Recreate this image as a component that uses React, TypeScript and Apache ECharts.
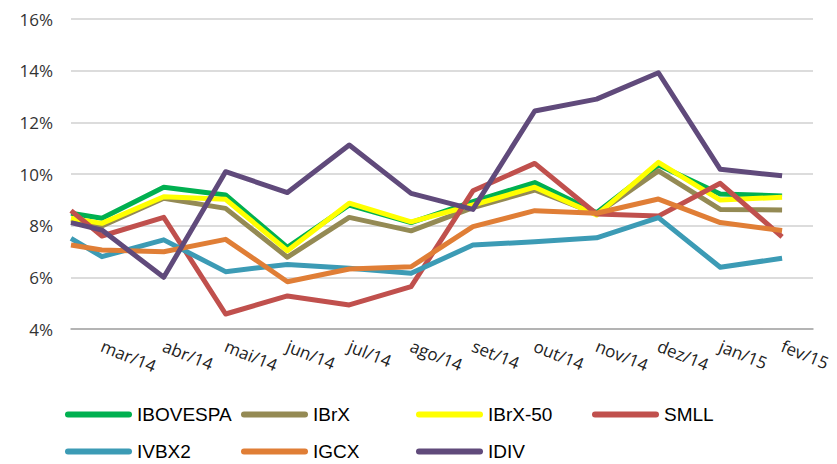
import React, { useEffect, useRef } from 'react';
import * as echarts from 'echarts';

const categories = ['mar/14', 'abr/14', 'mai/14', 'jun/14', 'jul/14', 'ago/14', 'set/14', 'out/14', 'nov/14', 'dez/14', 'jan/15', 'fev/15'];
const seriesNames = ['IBOVESPA', 'IBrX', 'IBrX-50', 'SMLL', 'IVBX2', 'IGCX', 'IDIV'];
const seriesColors = ['#00b050', '#948a54', '#ffff00', '#c0504d', '#3c9bb5', '#e07e36', '#604a7b'];

const ibovespa = [8.29, 9.49, 9.19, 7.16, 8.8, 8.12, 8.93, 9.67, 8.5, 10.35, 9.23, 9.15];
const ibrx = [7.99, 9.06, 8.67, 6.78, 8.32, 7.8, 8.7, 9.38, 8.45, 10.12, 8.63, 8.61];
const ibrx50 = [8.09, 9.12, 9.02, 7.03, 8.87, 8.15, 8.8, 9.49, 8.41, 10.45, 8.99, 9.1];
const smll = [7.6, 8.32, 4.58, 5.28, 4.93, 5.64, 9.35, 10.41, 8.45, 8.37, 9.64, 7.57];
const ivbx2 = [6.8, 7.45, 6.22, 6.5, 6.35, 6.16, 7.25, 7.38, 7.53, 8.31, 6.39, 6.74];
const igcx = [7.06, 6.99, 7.47, 5.83, 6.32, 6.41, 7.96, 8.58, 8.48, 9.03, 8.12, 7.81];
const idiv = [7.83, 6.0, 10.09, 9.28, 11.12, 9.25, 8.63, 12.44, 12.9, 13.92, 10.18, 9.93];
// values where each line meets the left edge of the plot
const leftEdgeValues = [8.48, 8.22, 8.29, 8.58, 7.51, 7.25, 8.12];

const yMin = 4;
const yMax = 16;
const yStep = 2;

const allValues = [ibovespa, ibrx, ibrx50, smll, ivbx2, igcx, idiv];

const capsule = 'path://M3,0H64A3,3,0,0,1,64,6H3A3,3,0,0,1,3,0Z';

export default function App() {
  const ref = useRef<HTMLDivElement>(null);
  useEffect(() => {
    if (!ref.current) return;
    const chart = echarts.init(ref.current, undefined, { renderer: 'svg' });
    const colLefts = [65, 241, 416, 592];
    const rowTops = [405, 442];
    const option: any = {
      animation: false,
      backgroundColor: '#ffffff',
      grid: { left: 71, right: 24, top: 19, bottom: 135, containLabel: false },
      xAxis: [
        {
          type: 'category',
          data: categories,
          boundaryGap: true,
          axisTick: { show: false },
          axisLine: { lineStyle: { color: '#a6a6a6', width: 1.5 } },
          axisLabel: {
            interval: 0,
            rotate: -22,
            margin: 16,
            fontFamily: 'Open Sans',
            fontSize: 17,
            color: '#222222',
          },
          splitLine: { show: false },
        },
        { type: 'value', min: -0.5, max: 11.5, show: false },
      ],
      yAxis: {
        type: 'value',
        min: yMin,
        max: yMax,
        interval: yStep,
        axisLine: { show: false },
        axisTick: { show: false },
        axisLabel: {
          formatter: '{value}%',
          margin: 18,
          fontFamily: 'Open Sans',
          fontSize: 17,
          color: '#333333',
        },
        splitLine: { lineStyle: { color: '#d0d0d0', width: 1.5 } },
      },
      legend: seriesNames.map((n, i) => ({
        data: [n],
        left: colLefts[i % 4],
        top: rowTops[Math.floor(i / 4)],
        itemWidth: 67,
        itemHeight: 6,
        itemGap: 0,
        padding: 0,
        icon: capsule,
        selectedMode: false,
        textStyle: { fontFamily: 'Liberation Sans', fontSize: 19, color: '#000000' },
      })),
      series: seriesNames.map((n, i) => ({
        name: n,
        type: 'line',
        xAxisIndex: 1,
        symbol: 'none',
        clip: true,
        color: seriesColors[i],
        lineStyle: { width: 5, color: seriesColors[i], join: 'round' },
        data: [[-0.5, leftEdgeValues[i]], ...allValues[i].map((v, j) => [j, v])],
      })),
    };
    chart.setOption(option);
    return () => chart.dispose();
  }, []);
  return (
    <div
      ref={ref}
      style={{ position: 'fixed', left: 0, top: 0, width: 837, height: 464 }}
    />
  );
}
